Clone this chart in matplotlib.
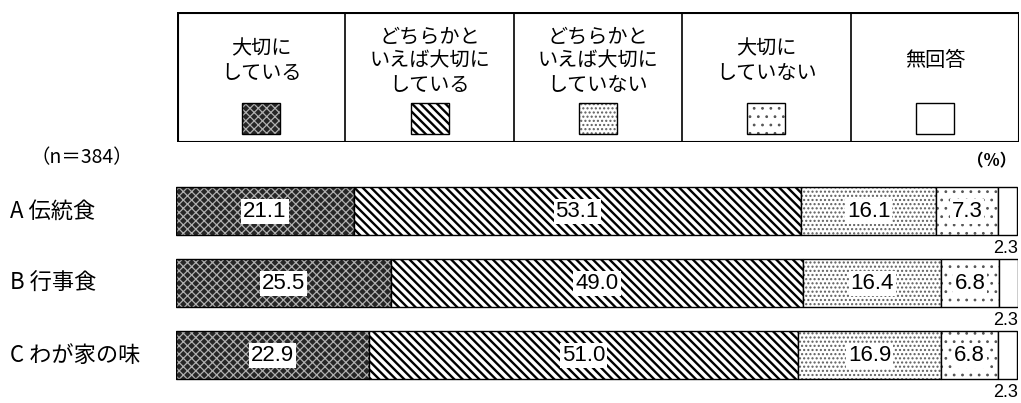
import matplotlib.pyplot as plt
from matplotlib.patches import Rectangle

plt.rcParams['font.family'] = ['Noto Sans CJK JP', 'DejaVu Sans']
NUM_FONT = ['Liberation Sans', 'DejaVu Sans']

categories = ['A 伝統食', 'B 行事食', 'C わが家の味']
answers = ['大切に\nしている', 'どちらかと\nいえば大切に\nしている', 'どちらかと\nいえば大切に\nしていない',
           '大切に\nしていない', '無回答']
values = [
    [21.1, 53.1, 16.1, 7.3, 2.3],
    [25.5, 49.0, 16.4, 6.8, 2.3],
    [22.9, 51.0, 16.9, 6.8, 2.3],
]
n_label = '（n＝384）'

# fill style per answer: face, hatch, hatch colour, hatch lw
styles = [
    ('#262626', 'xxxx', '#b0b0b0', 0.9),
    ('white', '\\\\\\\\', 'black', 1.7),
    ('white', '....', '#5e5e5e', 1.0),
    ('white', '..', '#555555', 0.8),
    ('white', '', 'black', 1.0),
]

W, H = 1021, 403
fig = plt.figure(figsize=(W / 100, H / 100), dpi=100)


def draw_box(ax, x, y, w, h, style, lw=1.0):
    face, hatch, hcol, hlw = style
    plt.rcParams['hatch.linewidth'] = hlw
    ax.add_patch(Rectangle((x, y), w, h, facecolor=face, hatch=hatch,
                           edgecolor=hcol, linewidth=0))
    ax.add_patch(Rectangle((x, y), w, h, fill=False, edgecolor='black', linewidth=lw))


# legend table
lx0, lx1, ly0, ly1 = 177, 1019, 12, 142
lax = fig.add_axes([lx0 / W, 1 - ly1 / H, (lx1 - lx0) / W, (ly1 - ly0) / H])
lax.set_xlim(lx0, lx1)
lax.set_ylim(ly1, ly0)
lax.axis('off')
lax.add_patch(Rectangle((lx0 + 0.5, ly0 + 0.5), lx1 - lx0 - 1, ly1 - ly0 - 1,
                        fill=False, edgecolor='black', linewidth=1.5))
colw = (lx1 - lx0) / len(answers)
for i, (ans, st) in enumerate(zip(answers, styles)):
    cx = lx0 + colw * (i + 0.5)
    if i > 0:
        lax.plot([lx0 + colw * i] * 2, [ly0, ly1], color='black', linewidth=1.2)
    lax.text(cx, 61, ans, ha='center', va='center', fontsize=14.5, linespacing=1.2)
    draw_box(lax, cx - 19, 103, 38, 31, st, lw=1.0)

# bars
ax = fig.add_axes([176 / W, 1 - 391 / H, (1018 - 176) / W, 216 / H])
ax.set_xlim(0, 100)
ax.set_ylim(2.5, -0.5)
ax.axis('off')
bh = 48 / 72
for row, vals in enumerate(values):
    left = 0
    for j, v in enumerate(vals):
        draw_box(ax, left, row - bh / 2, v, bh, styles[j], lw=1.0)
        if j < 4:
            ax.text(left + v / 2, row, f'{v:.1f}', ha='center', va='center', fontsize=16,
                    family=NUM_FONT,
                    bbox=dict(facecolor='white', edgecolor='none', pad=1.5))
        else:
            ax.text(100, row + 0.52, f'{v:.1f}', ha='right', va='center', fontsize=13,
                    family=NUM_FONT)
        left += v
    fig.text(10 / W, 1 - (211 + 72 * row) / H, categories[row], ha='left', va='center',
             fontsize=16)

fig.text(30 / W, 1 - 158 / H, n_label, ha='left', va='center', fontsize=14)
fig.text(1016 / W, 1 - 161 / H, '（%）', ha='right', va='center', fontsize=12,
         fontweight='bold')

fig.savefig('out.png', dpi=100)
